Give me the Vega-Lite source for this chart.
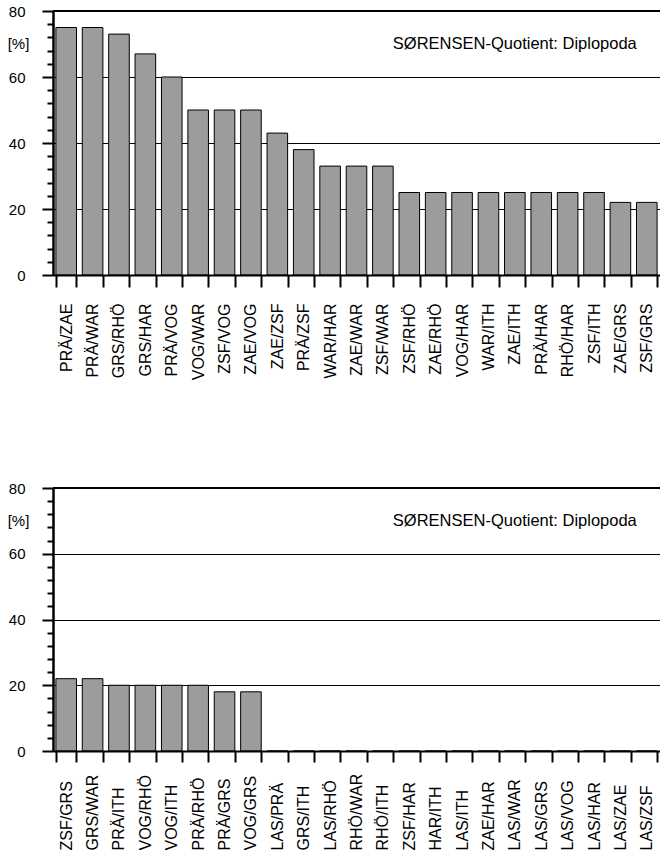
{
  "$schema": "https://vega.github.io/schema/vega-lite/v6.json",
  "padding": {"left": 7, "top": 4, "right": 0, "bottom": 0},
  "spacing": 101,
  "config": {
    "font": "Liberation Sans",
    "view": {"stroke": null}
  },
  "datasets": {
    "top": [
      {"pair": "PRÄ/ZAE", "value": 75},
      {"pair": "PRÄ/WAR", "value": 75},
      {"pair": "GRS/RHÖ", "value": 73},
      {"pair": "GRS/HAR", "value": 67},
      {"pair": "PRÄ/VOG", "value": 60},
      {"pair": "VOG/WAR", "value": 50},
      {"pair": "ZSF/VOG", "value": 50},
      {"pair": "ZAE/VOG", "value": 50},
      {"pair": "ZAE/ZSF", "value": 43},
      {"pair": "PRÄ/ZSF", "value": 38},
      {"pair": "WAR/HAR", "value": 33},
      {"pair": "ZAE/WAR", "value": 33},
      {"pair": "ZSF/WAR", "value": 33},
      {"pair": "ZSF/RHÖ", "value": 25},
      {"pair": "ZAE/RHÖ", "value": 25},
      {"pair": "VOG/HAR", "value": 25},
      {"pair": "WAR/ITH", "value": 25},
      {"pair": "ZAE/ITH", "value": 25},
      {"pair": "PRÄ/HAR", "value": 25},
      {"pair": "RHÖ/HAR", "value": 25},
      {"pair": "ZSF/ITH", "value": 25},
      {"pair": "ZAE/GRS", "value": 22},
      {"pair": "ZSF/GRS", "value": 22}
    ],
    "bottom": [
      {"pair": "ZSF/GRS", "value": 22},
      {"pair": "GRS/WAR", "value": 22},
      {"pair": "PRÄ/ITH", "value": 20},
      {"pair": "VOG/RHÖ", "value": 20},
      {"pair": "VOG/ITH", "value": 20},
      {"pair": "PRÄ/RHÖ", "value": 20},
      {"pair": "PRÄ/GRS", "value": 18},
      {"pair": "VOG/GRS", "value": 18},
      {"pair": "LAS/PRÄ", "value": 0},
      {"pair": "GRS/ITH", "value": 0},
      {"pair": "LAS/RHÖ", "value": 0},
      {"pair": "RHÖ/WAR", "value": 0},
      {"pair": "RHÖ/ITH", "value": 0},
      {"pair": "ZSF/HAR", "value": 0},
      {"pair": "HAR/ITH", "value": 0},
      {"pair": "LAS/ITH", "value": 0},
      {"pair": "ZAE/HAR", "value": 0},
      {"pair": "LAS/WAR", "value": 0},
      {"pair": "LAS/GRS", "value": 0},
      {"pair": "LAS/VOG", "value": 0},
      {"pair": "LAS/HAR", "value": 0},
      {"pair": "LAS/ZAE", "value": 0},
      {"pair": "LAS/ZSF", "value": 0}
    ],
    "noteTop": [{"pair": "ZSF/GRS", "value": 70, "label": "SØRENSEN-Quotient: Diplopoda"}],
    "noteBottom": [{"pair": "LAS/ZSF", "value": 70, "label": "SØRENSEN-Quotient: Diplopoda"}],
    "topline": [{"value": 80}]
  },
  "vconcat": [
    {
      "width": 607,
      "height": 264,
      "resolve": {"axis": {"y": "independent"}},
      "layer": [
        {
          "data": {"name": "topline"},
          "mark": {"type": "rule", "color": "black", "strokeWidth": 2},
          "encoding": {
            "y": {"field": "value", "type": "quantitative", "scale": {"domain": [0, 80], "nice": false},
              "axis": {"orient": "left", "values": [4, 8, 12, 16, 24, 28, 32, 36, 44, 48, 52, 56, 64, 68, 72, 76],
                "tickSize": 6, "tickWidth": 2, "tickColor": "black", "labels": false, "domain": false, "grid": false, "title": null}}
          }
        },
        {
          "data": {"name": "top"},
          "mark": {"type": "bar", "fill": "#9c9c9c", "stroke": "black", "strokeWidth": 1},
          "encoding": {
            "x": {"field": "pair", "type": "nominal", "sort": null,
              "scale": {"paddingInner": 0.22, "paddingOuter": 0.11},
              "axis": {"title": null, "tickBand": "extent", "tickSize": 12, "tickWidth": 2, "tickColor": "black",
                "domainColor": "black", "domainWidth": 2, "labelAngle": 270, "labelAlign": "right", "labelBaseline": "middle",
                "labelFontSize": 16, "labelColor": "black", "labelPadding": 16, "labelOverlap": false, "labelBound": false,
                "grid": false, "zindex": 1}},
            "y": {"field": "value", "type": "quantitative", "scale": {"domain": [0, 80], "nice": false},
              "axis": {"orient": "left", "values": [0, 20, 40, 60, 80], "tickSize": 11, "tickWidth": 2, "tickColor": "black",
                "grid": true, "gridColor": "black", "gridWidth": 1.2,
                "domainColor": "black", "domainWidth": 2.5,
                "labelFontSize": 15, "labelColor": "black", "labelPadding": 17,
                "title": "[%]", "titleAngle": 0, "titleX": -35, "titleY": 32, "titleAlign": "center",
                "titleBaseline": "middle", "titleFontSize": 15, "titleFontWeight": "normal", "titleColor": "black"}}
          }
        },
        {
          "data": {"name": "noteTop"},
          "mark": {"type": "text", "align": "right", "baseline": "middle", "fontSize": 16.5, "dx": -10, "color": "black"},
          "encoding": {
            "x": {"field": "pair", "type": "nominal", "sort": null},
            "y": {"field": "value", "type": "quantitative", "axis": null},
            "text": {"field": "label"}
          }
        }
      ]
    },
    {
      "width": 607,
      "height": 263,
      "resolve": {"axis": {"y": "independent"}},
      "layer": [
        {
          "data": {"name": "topline"},
          "mark": {"type": "rule", "color": "black", "strokeWidth": 2},
          "encoding": {
            "y": {"field": "value", "type": "quantitative", "scale": {"domain": [0, 80], "nice": false},
              "axis": {"orient": "left", "values": [4, 8, 12, 16, 24, 28, 32, 36, 44, 48, 52, 56, 64, 68, 72, 76],
                "tickSize": 6, "tickWidth": 2, "tickColor": "black", "labels": false, "domain": false, "grid": false, "title": null}}
          }
        },
        {
          "data": {"name": "bottom"},
          "mark": {"type": "bar", "fill": "#9c9c9c", "stroke": "black", "strokeWidth": 1},
          "encoding": {
            "x": {"field": "pair", "type": "nominal", "sort": null,
              "scale": {"paddingInner": 0.22, "paddingOuter": 0.11},
              "axis": {"title": null, "tickBand": "extent", "tickSize": 11, "tickWidth": 2, "tickColor": "black",
                "domainColor": "black", "domainWidth": 2, "labelAngle": 270, "labelAlign": "left", "labelBaseline": "middle",
                "labelFontSize": 16, "labelColor": "black", "labelPadding": 88, "labelOverlap": false, "labelBound": false,
                "grid": false, "zindex": 1}},
            "y": {"field": "value", "type": "quantitative", "scale": {"domain": [0, 80], "nice": false},
              "axis": {"orient": "left", "values": [0, 20, 40, 60, 80], "tickSize": 11, "tickWidth": 2, "tickColor": "black",
                "grid": true, "gridColor": "black", "gridWidth": 1.2,
                "domainColor": "black", "domainWidth": 2.5,
                "labelFontSize": 15, "labelColor": "black", "labelPadding": 17,
                "title": "[%]", "titleAngle": 0, "titleX": -35, "titleY": 32, "titleAlign": "center",
                "titleBaseline": "middle", "titleFontSize": 15, "titleFontWeight": "normal", "titleColor": "black"}}
          }
        },
        {
          "data": {"name": "noteBottom"},
          "mark": {"type": "text", "align": "right", "baseline": "middle", "fontSize": 16.5, "dx": -10, "color": "black"},
          "encoding": {
            "x": {"field": "pair", "type": "nominal", "sort": null},
            "y": {"field": "value", "type": "quantitative", "axis": null},
            "text": {"field": "label"}
          }
        }
      ]
    }
  ]
}
